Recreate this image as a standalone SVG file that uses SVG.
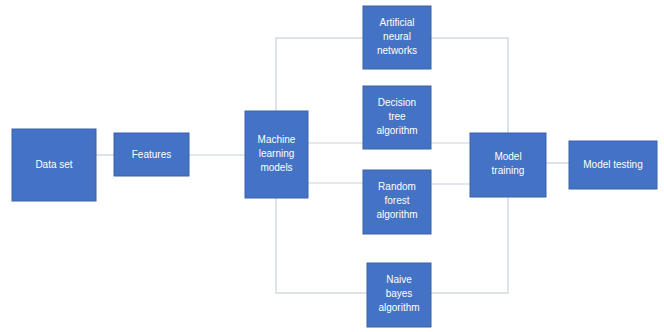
<svg xmlns="http://www.w3.org/2000/svg" width="664" height="332" viewBox="0 0 664 332">
<style>
.box{fill:#4472C4;stroke:#3A62AD;stroke-width:1}
.t{font-family:"Liberation Sans",Arial,sans-serif;font-size:10px;fill:#FFFFFF;text-anchor:middle}
.c{fill:none;stroke:#C8CFDD;stroke-width:1.2}
</style>
<rect width="664" height="332" fill="#FFFFFF"/>
<g id="connectors">
<line class="c" x1="96" y1="155" x2="114" y2="155"/>
<line class="c" x1="189" y1="155" x2="245" y2="155"/>
<rect class="c" x="276" y="38" width="232" height="255"/>
<line class="c" x1="308" y1="143" x2="363" y2="143"/>
<line class="c" x1="308" y1="183" x2="363" y2="183"/>
<line class="c" x1="431" y1="143" x2="470" y2="143"/>
<line class="c" x1="431" y1="184" x2="470" y2="184"/>
<line class="c" x1="546" y1="163" x2="569" y2="163"/>
</g>
<g id="dataset"><rect class="box" x="12" y="129" width="84" height="72"/><text class="t" x="54" y="168">Data set</text></g>
<g id="features"><rect class="box" x="114" y="133" width="75" height="43"/><text class="t" x="151.5" y="158">Features</text></g>
<g id="ml"><rect class="box" x="245" y="111" width="63" height="87"/><text class="t" x="276.5" y="143">Machine</text><text class="t" x="276.5" y="157">learning</text><text class="t" x="276.5" y="171">models</text></g>
<g id="ann"><rect class="box" x="363" y="6" width="68" height="63"/><text class="t" x="397" y="26">Artificial</text><text class="t" x="397" y="40">neural</text><text class="t" x="397" y="54">networks</text></g>
<g id="dt"><rect class="box" x="363" y="86" width="68" height="63"/><text class="t" x="397" y="106">Decision</text><text class="t" x="397" y="120">tree</text><text class="t" x="397" y="134">algorithm</text></g>
<g id="rf"><rect class="box" x="363" y="170" width="68" height="64"/><text class="t" x="397" y="190">Random</text><text class="t" x="397" y="204">forest</text><text class="t" x="397" y="218">algorithm</text></g>
<g id="nb"><rect class="box" x="367" y="263" width="64" height="64"/><text class="t" x="399" y="283">Naive</text><text class="t" x="399" y="297">bayes</text><text class="t" x="399" y="311">algorithm</text></g>
<g id="training"><rect class="box" x="470" y="133" width="76" height="64"/><text class="t" x="508" y="160">Model</text><text class="t" x="508" y="174">training</text></g>
<g id="testing"><rect class="box" x="569" y="141" width="88" height="48"/><text class="t" x="613" y="168">Model testing</text></g>
</svg>
